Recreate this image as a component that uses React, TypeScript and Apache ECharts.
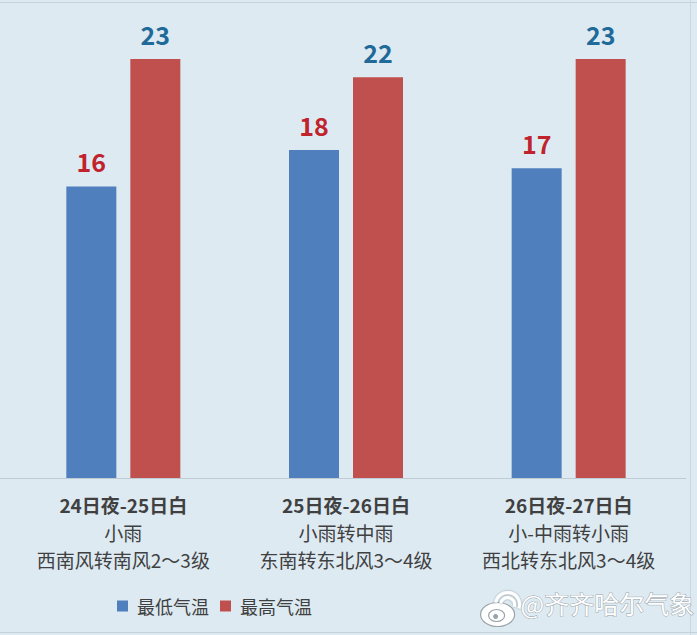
import React, { useEffect, useRef } from "react";
import * as echarts from "echarts";

const dateLines = ["24日夜-25日白", "25日夜-26日白", "26日夜-27日白"];
const weatherLines = ["小雨", "小雨转中雨", "小-中雨转小雨"];
const windLines = ["西南风转南风2～3级", "东南转东北风3～4级", "西北转东北风3～4级"];
const lowTemps = [16, 18, 17];
const highTemps = [23, 22, 23];
const seriesNames = ["最低气温", "最高气温"];
const watermark = "@齐齐哈尔气象";

const categories = dateLines.map((d, i) => `${d}\n${weatherLines[i]}\n${windLines[i]}`);

export default function App() {
  const ref = useRef<HTMLDivElement>(null);
  useEffect(() => {
    if (!ref.current) return;
    const chart = echarts.init(ref.current, null, { renderer: "svg" });
    const font = '"Noto Sans CJK SC", "Noto Sans", sans-serif';
    chart.setOption({
      animation: false,
      backgroundColor: "#ddeaf2",
      textStyle: { fontFamily: font },
      grid: { left: 12, right: 17, top: 59, bottom: 157 },
      legend: {
        left: 112,
        top: 592,
        itemWidth: 11,
        itemHeight: 11,
        itemGap: 11,
        icon: "rect",
        textStyle: { fontSize: 18, color: "#404040", fontFamily: font, padding: [0, 0, 0, 4] },
        data: seriesNames,
      },
      xAxis: {
        type: "category",
        data: categories,
        axisLine: { show: false },
        axisTick: { show: false },
        axisLabel: {
          interval: 0,
          margin: 13,
          lineHeight: 27.5,
          fontSize: 19,
          color: "#404040",
          fontFamily: font,
          formatter: (v: string) => {
            const parts = v.split("\n");
            return `{b|${parts[0]}}\n{n|${parts[1]}}\n{n|${parts[2]}}`;
          },
          rich: {
            b: { fontSize: 19, fontWeight: "bold", lineHeight: 27.5, color: "#404040", fontFamily: font },
            n: { fontSize: 19, lineHeight: 27.5, color: "#404040", fontFamily: font },
          },
        },
      },
      yAxis: {
        type: "value",
        min: 0,
        max: 23,
        show: false,
        splitLine: { show: false },
      },
      series: [
        {
          name: seriesNames[0],
          type: "bar",
          data: lowTemps,
          barWidth: 50,
          barGap: "28%",
          itemStyle: { color: "#4f7fbc" },
          label: {
            show: true,
            position: "top",
            distance: 13,
            fontSize: 25,
            fontWeight: "bold",
            color: "#c0232c",
            fontFamily: font,
          },
        },
        {
          name: seriesNames[1],
          type: "bar",
          data: highTemps,
          barWidth: 50,
          barGap: "28%",
          itemStyle: { color: "#c0504d" },
          label: {
            show: true,
            position: "top",
            distance: 13,
            fontSize: 25,
            fontWeight: "bold",
            color: "#1f6a98",
            fontFamily: font,
          },
        },
      ],
      graphic: [
        { type: "line", shape: { x1: 0, y1: 2.5, x2: 697, y2: 2.5 }, style: { stroke: "#c3d3de", lineWidth: 1 }, silent: true },
        { type: "line", shape: { x1: 690.5, y1: 0, x2: 690.5, y2: 635 }, style: { stroke: "#c8d7e2", lineWidth: 1 }, silent: true },
        { type: "line", shape: { x1: 0, y1: 632.5, x2: 697, y2: 632.5 }, style: { stroke: "#c3d3de", lineWidth: 1 }, silent: true },
        { type: "line", shape: { x1: 0, y1: 478.5, x2: 686, y2: 478.5 }, style: { stroke: "#bfcbd4", lineWidth: 1 }, silent: true },
        {
          type: "group",
          left: 480,
          top: 590,
          silent: true,
          children: [
            { type: "ellipse", shape: { cx: 18, cy: 20, rx: 17, ry: 12 }, style: { fill: "#ffffff", stroke: "#9aa4ab", lineWidth: 1.2 } },
            { type: "ellipse", shape: { cx: 17, cy: 21, rx: 8, ry: 6 }, style: { fill: "#ffffff", stroke: "#9aa4ab", lineWidth: 1.2 } },
            { type: "circle", shape: { cx: 16, cy: 22, r: 2.5 }, style: { fill: "#9aa4ab" } },
            { type: "arc", shape: { cx: 28, cy: 10, r: 7, startAngle: -Math.PI * 0.95, endAngle: Math.PI * 0.1 }, style: { stroke: "#ffffff", lineWidth: 3, fill: null, shadowColor: "rgba(0,0,0,0.35)", shadowBlur: 2 } },
            { type: "arc", shape: { cx: 28, cy: 10, r: 12, startAngle: -Math.PI * 0.95, endAngle: Math.PI * 0.1 }, style: { stroke: "#ffffff", lineWidth: 3, fill: null, shadowColor: "rgba(0,0,0,0.35)", shadowBlur: 2 } },
          ],
        },
        {
          type: "text",
          left: 520,
          top: 590,
          silent: true,
          style: {
            text: watermark,
            font: `25px ${font}`,
            fill: "#ffffff",
            stroke: "#9aa4ab",
            lineWidth: 1,
            shadowColor: "rgba(0,0,0,0.3)",
            shadowBlur: 2,
          },
        },
      ],
    });
    return () => chart.dispose();
  }, []);
  return <div ref={ref} style={{ width: 697, height: 635, position: "absolute", left: 0, top: 0 }} />;
}
